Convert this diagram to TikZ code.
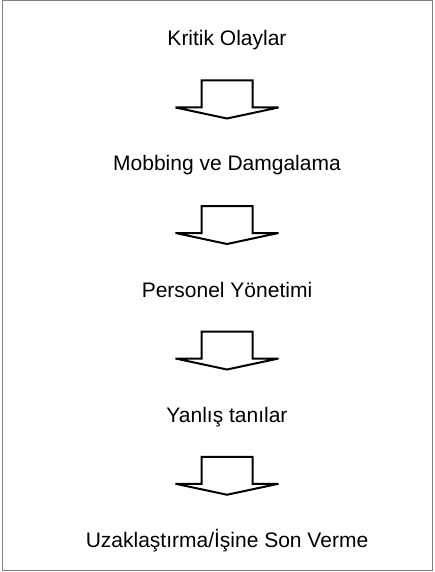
\documentclass[tikz,border=0pt]{standalone}
\usepackage{fontspec}
\setmainfont{Liberation Sans}
\usetikzlibrary{calc}

\tikzset{
  steptext/.style={anchor=base, inner sep=0.75pt, font=\fontsize{21}{25}\selectfont},
  downarrow/.pic={
    \draw[line width=2pt, line join=miter, miter limit=4] (-25.5,19) -- (25.5,19) -- (25.5,-8) -- (51.5,-8) -- (0,-19) -- (-51.5,-8) -- (-25.5,-8) -- cycle;
  }
}

\begin{document}
\begin{tikzpicture}[x=1pt,y=1pt,yscale=-1,xscale=1]
            \useasboundingbox (0,0) rectangle (434,572);
            %Shape: Frame
            \draw [color={rgb, 255:red, 128; green, 128; blue, 128 }, line width=1pt] (2,1) rectangle (432,570);

            % Text Node
            \node [steptext] (kritik) at (227,46) {Kritik Olaylar};
            % Text Node
            \node [steptext] (mobbing) at (227,171) {Mobbing ve Damgalama};
            % Text Node
            \node [steptext] (personel) at (227,297) {Personel Yönetimi};
            % Text Node
            \node [steptext] (yanlis) at (227,422) {Yanlış tanılar};
            % Text Node
            \node [steptext] (uzak) at (227,547.5) {Uzaklaştırma/İşine Son Verme};

            %Shape: Block arrows
            \path ($(kritik.base)!0.5!(mobbing.base)$) ++(0,-9) pic {downarrow};
            \path ($(mobbing.base)!0.5!(personel.base)$) ++(0,-9) pic {downarrow};
            \path ($(personel.base)!0.5!(yanlis.base)$) ++(0,-9) pic {downarrow};
            \path ($(yanlis.base)!0.5!(uzak.base)$) ++(0,-9) pic {downarrow};

        \end{tikzpicture}
\end{document}
